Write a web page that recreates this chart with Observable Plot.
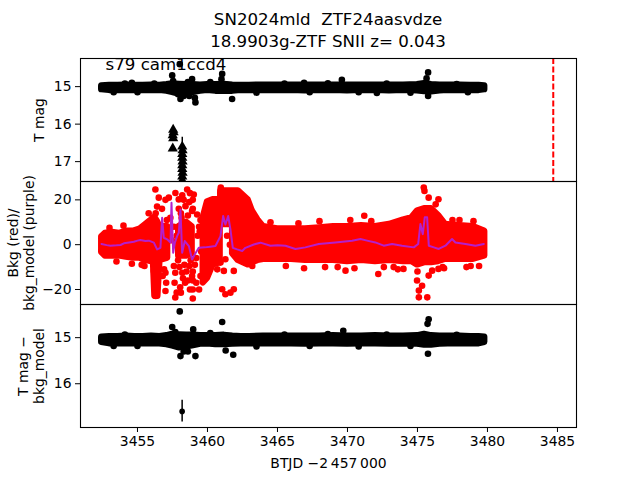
<!DOCTYPE html>
<html>
<head>
<meta charset="utf-8">
<script src="https://cdn.jsdelivr.net/npm/d3@7"></script>
<script src="https://cdn.jsdelivr.net/npm/@observablehq/plot@0.6"></script>
<style>
  body { margin: 0; background: white; }
  #wrap { position: relative; width: 640px; height: 480px; font-family: "DejaVu Sans"; background: white; overflow: hidden; }
  #title { position: absolute; left: 80px; width: 496px; top: 9px; text-align: center; font-size: 16.67px; line-height: 22px; white-space: pre; color: black; }
  .panel { position: absolute; left: 0; }
  .panel svg { overflow: visible; }
</style>
</head>
<body>
<div id="wrap">
  <div id="title">SN2024mld  ZTF24aasvdze
18.9903g-ZTF SNII z= 0.043</div>
  <div class="panel" id="p1" style="top:58px"></div>
  <div class="panel" id="p2" style="top:181px"></div>
  <div class="panel" id="p3" style="top:304px"></div>
</div>
<script>
// ---------- shared ----------
const xDomain = [3450.93, 3486.36];
const xTicks = [3455, 3460, 3465, 3470, 3475, 3480, 3485];
const xLabel = "BTJD \u22122\u2009457\u2009000";
const eventX = [3484.7];

// ---------- top panel: T mag ----------
const tTicks = [15, 16, 17];
const tLabel = "T mag";
const annotation = "s79 cam1ccd4";
const tBandX  = [3452.45, 3453.0, 3453.6, 3454.2, 3454.8, 3455.4, 3456.0, 3456.6, 3457.1, 3457.5, 3458.0, 3458.5, 3459.0, 3459.5, 3460.0, 3460.6, 3461.2, 3461.8, 3462.4, 3463.0, 3464.0, 3465.0, 3466.0, 3467.0, 3468.0, 3469.0, 3470.0, 3471.0, 3472.0, 3473.0, 3474.0, 3475.0, 3475.5, 3476.0, 3476.6, 3477.2, 3478.0, 3478.8, 3479.4, 3479.8];
const tBandLo = [14.98, 14.97, 14.97, 14.96, 14.97, 14.97, 14.96, 14.97, 14.95, 14.93, 14.94, 14.95, 14.95, 14.96, 14.95, 14.95, 14.94, 14.96, 14.97, 14.97, 14.96, 14.96, 14.96, 14.96, 14.96, 14.96, 14.96, 14.96, 14.96, 14.96, 14.96, 14.95, 14.92, 14.95, 14.96, 14.96, 14.96, 14.97, 14.97, 14.98];
const tBandHi = [15.08, 15.10, 15.10, 15.10, 15.10, 15.10, 15.10, 15.10, 15.12, 15.15, 15.20, 15.18, 15.15, 15.12, 15.10, 15.12, 15.12, 15.12, 15.10, 15.10, 15.10, 15.10, 15.10, 15.11, 15.10, 15.10, 15.11, 15.10, 15.10, 15.11, 15.10, 15.11, 15.13, 15.14, 15.11, 15.10, 15.10, 15.10, 15.10, 15.08];
const tOutX = [3458.02, 3457.48, 3457.55, 3461.05, 3461.0, 3458.07, 3458.3, 3459.14, 3459.1, 3461.76, 3458.9, 3458.6, 3469.6, 3475.76, 3475.65, 3475.76, 3460.2, 3457.9, 3458.7, 3454.6, 3466.9, 3472.1,
  3453.3, 3454.1, 3455.0, 3456.2, 3463.5, 3465.5, 3467.3, 3468.6, 3470.8, 3472.8, 3474.5, 3477.8, 3478.6];
const tOutY = [14.40, 14.70, 14.85, 14.66, 14.80, 15.33, 15.25, 15.42, 15.30, 15.33, 14.80, 14.88, 14.82, 14.62, 14.78, 15.25, 14.88, 15.20, 15.25, 14.90, 14.90, 15.17,
  15.15, 14.92, 15.15, 14.92, 15.16, 14.92, 15.15, 14.91, 15.15, 14.92, 15.16, 14.93, 15.15];
const tLimX = [3457.55, 3457.58, 3457.52, 3457.55, 3457.52, 3458.20, 3458.22, 3458.20, 3458.20, 3458.22, 3458.20, 3458.20, 3458.22, 3458.20, 3458.20];
const tLimY = [16.15, 16.22, 16.30, 16.38, 16.65, 16.60, 16.70, 16.80, 16.90, 17.00, 17.10, 17.20, 17.30, 17.40, 17.50];
const tErrX = [3458.2];
const tErrLo = [16.35];
const tErrHi = [16.75];

// ---------- middle panel: background ----------
const rTicks = [-20, 0, 20];
const rLabel = "Bkg (red)/\nbkg_model (purple)";
const rBandX  = [3452.45, 3452.7, 3453.2, 3453.7, 3454.2, 3454.7, 3455.2, 3455.6, 3456.0, 3456.15, 3456.25, 3456.45, 3456.6, 3457.15, 3457.2, 3457.95, 3458.5, 3458.9, 3459.3, 3459.7, 3460.0, 3460.4, 3460.9, 3460.92, 3460.95, 3461.7, 3461.75, 3461.8, 3462.2, 3462.9, 3463.2, 3463.6, 3464.0, 3465.0, 3466.0, 3467.0, 3468.0, 3469.0, 3470.0, 3471.0, 3472.0, 3473.0, 3474.0, 3474.6, 3475.0, 3475.5, 3476.0, 3476.5, 3477.0, 3478.0, 3479.0, 3479.8];
const rBandLo = [-3.5, -5, -5, -5, -5.5, -6, -6, -7, -7.5, -8, -23, -23, -7, -6, null, -5, -5, -4, null, -17, -15, -9, -8, null, 9, 9, null, -4, -7, -9, -8, -7, -6.5, -6.5, -6.5, -7, -7, -7, -7.5, -7, -7.5, -7, -7.5, -7.5, -9, -8, -8, -7.5, -6.5, -6.5, -6.5, -5];
const rBandHi = [3.5, 5, 5.5, 5, 6, 6, 7, 9, 11, 12, 12, 10, 8, 8, null, 8, 10, 8, null, 12, 19, 20, 20, null, 24, 24, null, 24, 24, 20, 15, 11, 8, 7, 7, 7, 7.5, 8, 8, 8.5, 8, 9, 11, 12, 15, 16, 16, 13, 9, 8.5, 8, 6];
const rDotX = [3456.28, 3456.52, 3456.4, 3456.3, 3457.0, 3457.24, 3457.71, 3457.95, 3458.2, 3458.55, 3458.43, 3458.7, 3459.02, 3459.26, 3458.9, 3458.1, 3459.5, 3460.95, 3461.1, 3461.45,
  3456.17, 3456.4, 3456.3, 3457.0, 3457.05, 3457.0, 3457.6, 3457.7, 3457.65, 3457.8, 3457.7, 3458.2, 3458.4, 3458.1, 3458.7, 3458.9, 3458.75, 3459.2, 3459.4, 3459.5, 3460.7, 3460.93, 3461.28, 3461.17, 3461.88, 3461.05, 3461.28, 3461.64, 3461.88, 3462.7, 3463.2,
  3457.3, 3457.45, 3457.35, 3457.6, 3457.8, 3458.95, 3458.95, 3458.95, 3458.95, 3458.95, 3458.95, 3459.1, 3459.45, 3461.4, 3461.6,
  3475.45, 3475.5, 3475.8, 3476.5, 3476.3, 3471.2, 3469.86, 3472.2, 3474.0, 3474.97, 3475.1, 3475.1, 3475.7, 3475.33, 3475.8, 3476.05, 3476.5, 3475.0, 3476.8, 3478.8,
  3454.6, 3455.3, 3453.5, 3455.8, 3466.9, 3468.4, 3470.5, 3472.6, 3473.6, 3468.0, 3470.2, 3476.9, 3478.5, 3477.5, 3479.0,
  3457.9, 3458.0, 3458.15, 3458.35, 3458.6, 3458.8, 3458.5, 3458.25, 3458.6, 3458.05, 3458.3, 3458.75, 3457.95, 3459.3, 3459.2, 3459.55, 3459.4, 3456.75, 3456.9, 3457.1, 3456.8,
  3453.0, 3454.0, 3455.5, 3464.5, 3465.6, 3466.5, 3469.3, 3471.7, 3473.3, 3478.0, 3479.4];
const rDotY = [24.6, 21, 17, 14, 20, 21, 23.1, 20.2, 22, 24.6, 17.2, 19, 22.4, 13.5, 15, 14, 11, 25.5, 23, 21,
  -11.7, -17, -22.9, -12.5, -17, -20.7, -9.5, -12.5, -17, -21.4, -23.6, -12.5, -17, -21.4, -9.5, -14, -20, -17, -20, -14, -11, -8, -6.5, -11.7, -11.7, -19.9, -22.1, -21.4, -19.9, -8, -9.5,
  6, 2, 12, 8, 4, -24, -20, -16, -12, 16, 20, -9, 6, 4, 0,
  25.5, 24, 21, 20.3, 18, 12.9, -11.6, -13.1, -10.8, -16, -20.5, -23.5, -23.5, -18.3, -13.8, -11.6, -10.8, -12, -10, -9.5,
  -8.5, -9, -7.5, 14, -10.5, -10, -10.5, -10, -11, 10.5, 11, -10.5, -10, 11, 10.5,
  -7, -10, 12, -9, 13, -7, -12, -15, -16, -19, 20, 23, 16, 4, -6, -3, 8, 16, -11, 11, -14,
  7.5, 8.5, -9.5, 10, -9.5, 9.5, -10, 10.5, -10, 11, -9.5];
const pX = [3452.43, 3452.8, 3453.07, 3453.5, 3453.79, 3454.03, 3454.4, 3454.74, 3455.0, 3455.2, 3455.57, 3455.81, 3456.17, 3456.4, 3456.64, 3456.76, 3456.88, 3457.12, 3457.36, 3457.43, 3457.55, 3457.67, 3457.83, 3457.95, 3458.07, 3458.19, 3458.38, 3458.67, 3458.9, 3459.1, 3459.38, 3459.8, 3460.2, 3460.57, 3460.93, 3461.12, 3461.28, 3461.48, 3461.64, 3461.81, 3462.12, 3462.48, 3462.71, 3463.31, 3463.78, 3464.5, 3465.0, 3465.57, 3466.28, 3466.99, 3467.95, 3469.14, 3470.33, 3470.93, 3471.4, 3471.99, 3472.59, 3473.19, 3473.9, 3474.74, 3475.05, 3475.21, 3475.38, 3475.52, 3475.69, 3475.81, 3476.17, 3476.52, 3477.0, 3477.47, 3477.71, 3478.43, 3479.14, 3479.74];
const pY = [0.3, -0.2, -0.45, -0.3, -0.15, 0.6, 1.0, 1.3, 1.8, 2.1, 1.6, 1.8, 0.9, -2.1, -1.4, 12, 3.1, 2.4, 0.9, 18.7, -3.6, 0.9, 3.8, 5.3, 15.7, -3.6, 1.6, -0.6, -6.6, -4.3, -1.4, -1.2, -0.9, -0.6, 3.8, 12.8, 9.0, 12.8, 6.8, -1.4, -2.1, -2.8, -1.4, 0.1, 0.9, -0.45, -0.3, -0.45, -1.9, -1.2, 0.3, 1.0, 1.8, 2.5, 1.8, 1.0, -0.45, 0.3, -0.45, -1.2, 0.3, 9.2, 4.7, 12.2, 12.2, -0.45, -1.2, -1.9, -0.45, 2.5, 1.0, 0.3, -0.45, 0.3];

// ---------- bottom panel: T mag - bkg_model ----------
const bTicks = [15, 16];
const bLabel = "T mag \u2212\nbkg_model";
const bBandX  = [3452.45, 3453.0, 3453.6, 3454.2, 3454.8, 3455.4, 3456.0, 3456.6, 3457.1, 3457.5, 3458.0, 3458.5, 3459.0, 3459.5, 3460.0, 3460.6, 3461.2, 3461.8, 3462.4, 3463.0, 3464.0, 3465.0, 3466.0, 3467.0, 3468.0, 3469.0, 3470.0, 3471.0, 3472.0, 3473.0, 3474.0, 3475.0, 3475.5, 3476.0, 3476.6, 3477.2, 3478.0, 3478.8, 3479.4, 3479.8];
const bBandLo = [14.99, 14.98, 14.98, 14.97, 14.98, 14.98, 14.97, 14.98, 14.96, 14.93, 14.94, 14.95, 14.95, 14.96, 14.96, 14.96, 14.95, 14.97, 14.98, 14.98, 14.97, 14.97, 14.97, 14.97, 14.97, 14.96, 14.97, 14.97, 14.96, 14.97, 14.97, 14.96, 14.93, 14.96, 14.97, 14.97, 14.97, 14.98, 14.98, 14.99];
const bBandHi = [15.10, 15.13, 15.13, 15.13, 15.13, 15.13, 15.13, 15.13, 15.15, 15.18, 15.22, 15.20, 15.17, 15.14, 15.13, 15.15, 15.15, 15.14, 15.13, 15.13, 15.13, 15.13, 15.13, 15.14, 15.13, 15.13, 15.14, 15.13, 15.13, 15.14, 15.13, 15.14, 15.16, 15.16, 15.14, 15.13, 15.13, 15.13, 15.13, 15.10];
const bOutX = [3458.02, 3461.05, 3457.48, 3458.98, 3458.07, 3459.14, 3461.84, 3461.3, 3458.3, 3475.8, 3475.72, 3475.75, 3469.7, 3457.7, 3460.2, 3458.6,
  3453.3, 3454.1, 3455.0, 3463.5, 3465.5, 3467.3, 3468.6, 3470.8, 3472.8, 3474.5, 3477.8];
const bOutY = [14.43, 14.66, 14.77, 14.82, 15.40, 15.40, 15.37, 15.28, 15.30, 14.60, 14.70, 15.35, 14.85, 14.88, 14.90, 15.30,
  15.18, 14.93, 15.18, 15.19, 14.93, 15.18, 14.92, 15.19, 14.93, 15.18, 14.94];
const bErrX = [3458.19];
const bErrY = [16.60];
const bErrLo = [16.36];
const bErrHi = [16.83];

// ---------- helpers ----------
const minusFmt = d => d < 0 ? "\u2212" + (-d) : String(d);
const band = (X, L, H) => X.map((x, i) => ({x, lo: L[i], hi: H[i]}));
const pts = (X, Y) => X.map((x, i) => ({x, y: Y[i]}));
const baseStyle = {fontFamily: "DejaVu Sans", fontSize: "13.9px", background: "transparent", overflow: "visible", color: "black"};
const common = {width: 640, marginLeft: 80, marginRight: 64, marginTop: 0, style: baseStyle};
const dotR = 3.3;

// ---------- top ----------
const p1 = Plot.plot({
  ...common, height: 123, marginBottom: 0,
  x: {domain: xDomain, axis: null},
  y: {domain: [14.25, 17.53], reverse: true, axis: null},
  marks: [
    Plot.areaY(band(tBandX, tBandLo, tBandHi), {x: "x", y1: "lo", y2: "hi", fill: "black", stroke: "black", strokeWidth: 6.5, strokeLinejoin: "round", clip: true}),
    Plot.dot(pts(tOutX, tOutY), {x: "x", y: "y", r: dotR, fill: "black", clip: true}),
    Plot.ruleX(tErrX.map((x, i) => ({x, y1: tErrLo[i], y2: tErrHi[i]})), {x: "x", y1: "y1", y2: "y2", stroke: "black", strokeWidth: 1.5, clip: true}),
    Plot.dot(pts(tLimX, tLimY), {x: "x", y: "y", symbol: "triangle", r: 3.8, fill: "black", clip: true}),
    Plot.ruleX(eventX, {stroke: "red", strokeWidth: 2, strokeDasharray: "6,2.5"}),
    Plot.axisY({ticks: tTicks, tickSize: 5, tickPadding: 4, label: null, tickFormat: minusFmt}),
    Plot.text([tLabel], {frameAnchor: "left", dx: -41, rotate: -90, textAnchor: "middle", text: d => d, fontSize: 13.9}),
    Plot.text([annotation], {frameAnchor: "top-left", dx: 25, dy: 0, textAnchor: "start", lineAnchor: "top", text: d => d, fontSize: 16.67}),
    Plot.frame({stroke: "black", strokeWidth: 1.1})
  ]
});
document.getElementById("p1").append(p1);

// ---------- middle ----------
const p2 = Plot.plot({
  ...common, height: 123, marginBottom: 0,
  x: {domain: xDomain, axis: null},
  y: {domain: [-26.7, 28.2], axis: null},
  marks: [
    Plot.areaY(band(rBandX, rBandLo, rBandHi), {x: "x", y1: "lo", y2: "hi", fill: "red", stroke: "red", strokeWidth: 6.5, strokeLinejoin: "round", clip: true}),
    Plot.dot(pts(rDotX, rDotY), {x: "x", y: "y", r: dotR, fill: "red", clip: true}),
    Plot.line(pts(pX, pY), {x: "x", y: "y", stroke: "#b41fcc", strokeWidth: 2, clip: true}),
    Plot.axisY({ticks: rTicks, tickSize: 5, tickPadding: 4, label: null, tickFormat: minusFmt}),
    Plot.text([rLabel], {frameAnchor: "left", dx: -59.5, rotate: -90, textAnchor: "middle", text: d => d, fontSize: 13.9, lineHeight: 1.15}),
    Plot.frame({stroke: "black", strokeWidth: 1.1})
  ]
});
document.getElementById("p2").append(p2);

// ---------- bottom ----------
const p3 = Plot.plot({
  ...common, height: 176, marginBottom: 53,
  x: {domain: xDomain, axis: null},
  y: {domain: [14.28, 16.95], reverse: true, axis: null},
  marks: [
    Plot.areaY(band(bBandX, bBandLo, bBandHi), {x: "x", y1: "lo", y2: "hi", fill: "black", stroke: "black", strokeWidth: 6.5, strokeLinejoin: "round", clip: true}),
    Plot.dot(pts(bOutX, bOutY), {x: "x", y: "y", r: dotR, fill: "black", clip: true}),
    Plot.ruleX(bErrX.map((x, i) => ({x, y1: bErrLo[i], y2: bErrHi[i]})), {x: "x", y1: "y1", y2: "y2", stroke: "black", strokeWidth: 1.5, clip: true}),
    Plot.dot(pts(bErrX, bErrY), {x: "x", y: "y", r: 2.8, fill: "black", clip: true}),
    Plot.axisY({ticks: bTicks, tickSize: 5, tickPadding: 4, label: null, tickFormat: minusFmt}),
    Plot.axisX({ticks: xTicks, tickSize: 5, tickPadding: 4, label: null, tickFormat: d => String(d)}),
    Plot.text([bLabel], {frameAnchor: "left", dx: -50, rotate: -90, textAnchor: "middle", text: d => d, fontSize: 13.9, lineHeight: 1.15}),
    Plot.text([xLabel], {frameAnchor: "bottom", dy: 36, lineAnchor: "middle", text: d => d, fontSize: 13.9}),
    Plot.frame({stroke: "black", strokeWidth: 1.1})
  ]
});
document.getElementById("p3").append(p3);
</script>
</body>
</html>
